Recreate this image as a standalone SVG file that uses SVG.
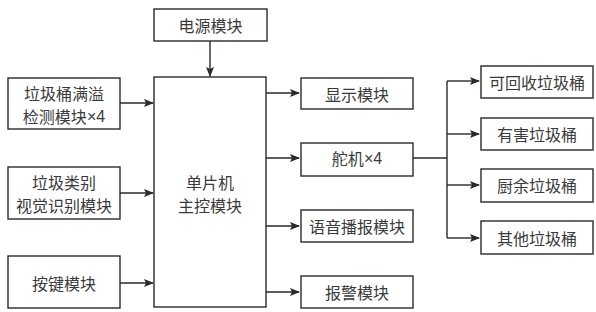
<svg xmlns="http://www.w3.org/2000/svg" width="596" height="312" viewBox="0 0 596 312">
<style>
rect{fill:#fff;stroke:#2a2a2a;stroke-width:1.4}
text{font-family:"Noto Sans CJK SC","Liberation Sans",sans-serif;font-size:16px;fill:#3a3a3a;text-anchor:middle;dominant-baseline:central}
.x{font-family:"Liberation Sans",sans-serif}
.c path{fill:none;stroke:#2a2a2a;stroke-width:1.4}
</style>
<defs>
<marker id="a" markerWidth="10" markerHeight="8" refX="9" refY="4" orient="auto" markerUnits="userSpaceOnUse">
<path d="M0,0 L10,4 L0,8 L2,4 Z" fill="#2a2a2a"/>
</marker>
</defs>
<rect x="0" y="0" width="596" height="312" style="stroke:none"/>
<g id="power"><rect x="154" y="9" width="113" height="32"/><text x="210.5" y="25">电源模块</text></g>
<g id="mcu"><rect x="154" y="77" width="112" height="230"/><text x="210" y="182">单片机</text><text x="210" y="205">主控模块</text></g>
<g id="overflow"><rect x="8" y="78" width="112" height="51"/><text x="64" y="92.5">垃圾桶满溢</text><text x="64" y="115.5">检测模块<tspan class="x">×4</tspan></text></g>
<g id="vision"><rect x="8" y="167" width="112" height="52"/><text x="64" y="181.5">垃圾类别</text><text x="64" y="204.5">视觉识别模块</text></g>
<g id="keys"><rect x="8" y="256" width="112" height="52"/><text x="64" y="283">按键模块</text></g>
<g id="display"><rect x="301" y="78" width="112" height="31"/><text x="357" y="93.5">显示模块</text></g>
<g id="servo"><rect x="301" y="143" width="112" height="33"/><text x="357" y="158">舵机<tspan class="x">×4</tspan></text></g>
<g id="voice"><rect x="301" y="210" width="112" height="32"/><text x="357" y="226">语音播报模块</text></g>
<g id="alarm"><rect x="301" y="276" width="112" height="32"/><text x="357" y="292">报警模块</text></g>
<g id="recyclable"><rect x="481" y="66" width="112" height="32"/><text x="537" y="82">可回收垃圾桶</text></g>
<g id="harmful"><rect x="481" y="118" width="112" height="32"/><text x="537" y="134">有害垃圾桶</text></g>
<g id="kitchen"><rect x="481" y="169" width="112" height="33"/><text x="537" y="185">厨余垃圾桶</text></g>
<g id="other"><rect x="481" y="221" width="112" height="33"/><text x="537" y="238">其他垃圾桶</text></g>
<g class="c" id="connectors">
<path d="M210,41 V76" marker-end="url(#a)"/>
<path d="M120,103 H153" marker-end="url(#a)"/>
<path d="M120,193 H153" marker-end="url(#a)"/>
<path d="M120,283 H153" marker-end="url(#a)"/>
<path d="M266,93 H299" marker-end="url(#a)"/>
<path d="M266,158 H299" marker-end="url(#a)"/>
<path d="M266,226 H299" marker-end="url(#a)"/>
<path d="M266,292 H299" marker-end="url(#a)"/>
<path d="M413,158 H447"/>
<path d="M447,81 V238"/>
<path d="M447,81 H479" marker-end="url(#a)"/>
<path d="M447,134 H479" marker-end="url(#a)"/>
<path d="M447,185 H479" marker-end="url(#a)"/>
<path d="M447,238 H479" marker-end="url(#a)"/>
</g>
</svg>
